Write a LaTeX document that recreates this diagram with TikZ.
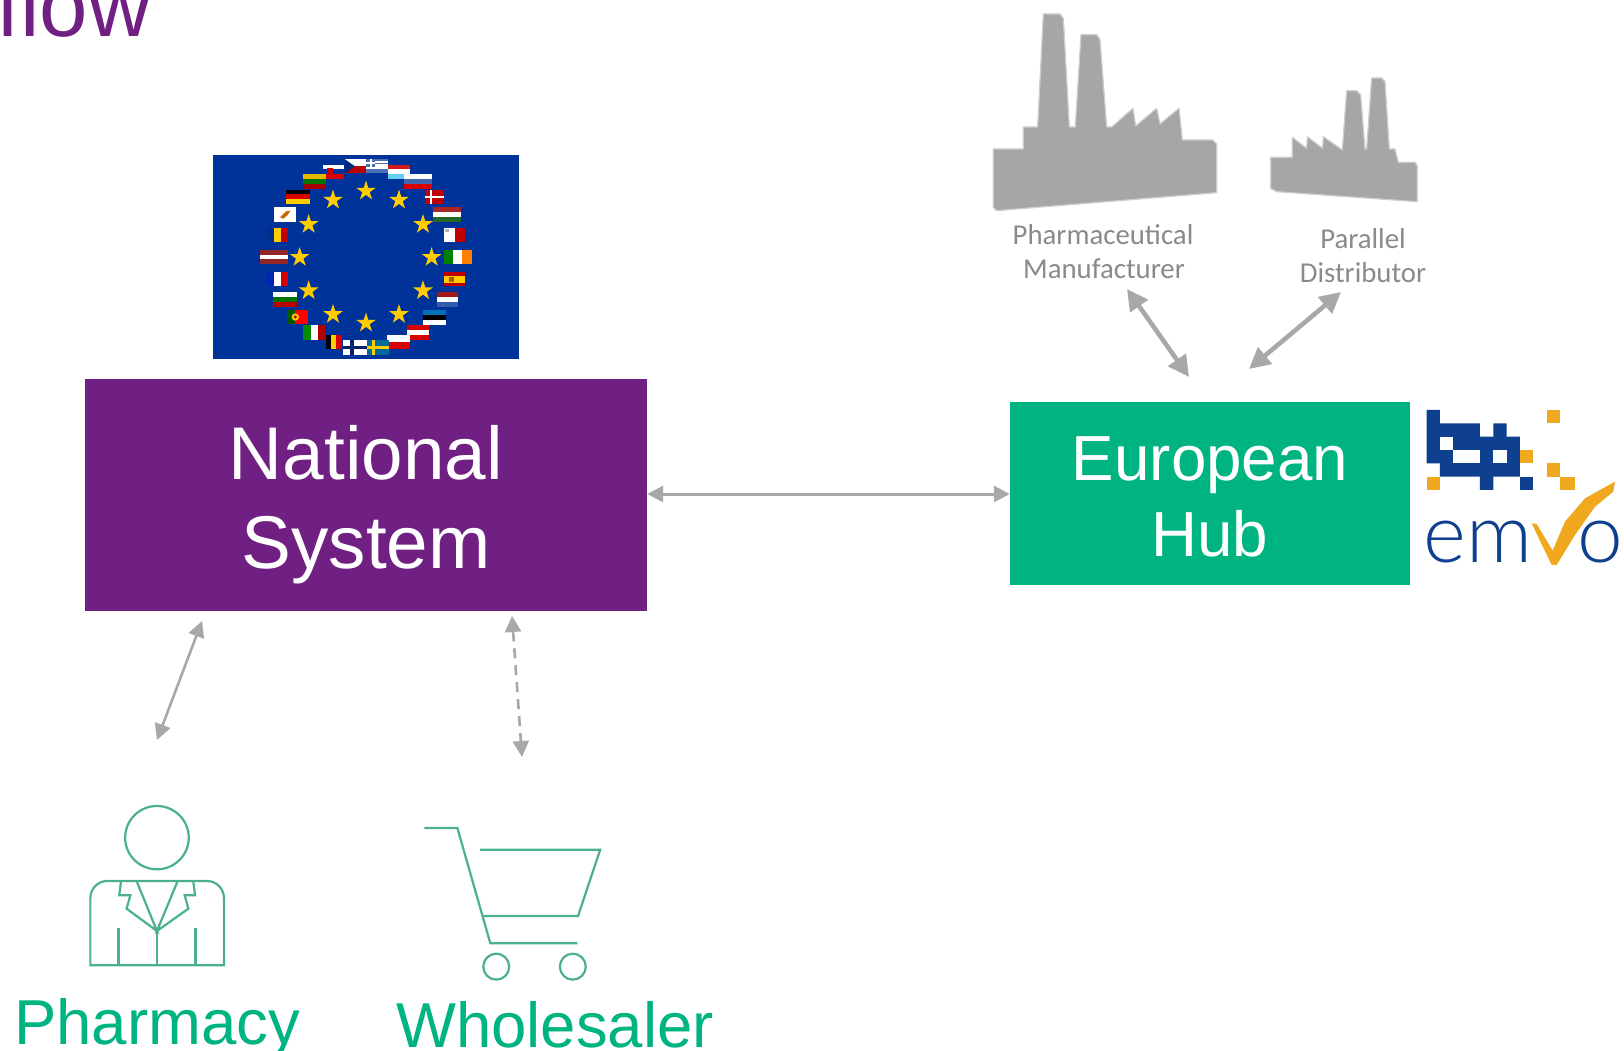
\documentclass[tikz,border=0pt]{standalone}
\usepackage{fontspec}
\usetikzlibrary{arrows.meta}
\setmainfont{Liberation Sans}
\newfontfamily\calfont{Carlito}
\newfontfamily\emvofont{Lato Light}
\definecolor{purp}{HTML}{702082}
\definecolor{grn}{HTML}{00B482}
\definecolor{icon}{HTML}{4BB08F}
\definecolor{arrowgray}{HTML}{A8A8A8}
\definecolor{factgray}{HTML}{A6A6A6}
\definecolor{labgray}{HTML}{8A8A8A}
\definecolor{eublue}{HTML}{003399}
\definecolor{eustar}{HTML}{FFCC00}
\definecolor{logoblue}{HTML}{0F3F8F}
\definecolor{logoor}{HTML}{F0A81E}
\tikzset{
  bigbox/.style={inner sep=0pt,align=center,text=white},
  biglabel/.style={text=grn,font=\fontsize{63.5}{70}\selectfont,inner sep=0pt,anchor=base},
  factlabel/.style={text=labgray,font=\calfont\fontsize{28.8}{28.8}\selectfont,inner sep=0pt,anchor=base},
  link/.style={draw=arrowgray,line width=3pt,{Triangle[length=16pt,width=16pt]}-{Triangle[length=16pt,width=16pt]}},
  linkthick/.style={draw=arrowgray,line width=4.6pt,{Triangle[length=21pt,width=21pt]}-{Triangle[length=21pt,width=21pt]}},
  iconline/.style={draw=icon,line width=2.2pt},
  zoomA/.style={x=0.33333pt,y=-0.33333pt},
  zoomB/.style={x=0.37pt,y=-0.33333pt},
  factshape/.style={fill=factgray,draw=factgray!55,line width=1.2pt,line join=round},
}
\newcommand{\hfl}[7]{%
  \pgfmathsetmacro{\ya}{#2+(#4-#2)/3}\pgfmathsetmacro{\yb}{#2+2*(#4-#2)/3}%
  \fill[#5] (#1,#2) rectangle (#3,\ya);
  \fill[#6] (#1,\ya) rectangle (#3,\yb);
  \fill[#7] (#1,\yb) rectangle (#3,#4);}
\newcommand{\vfl}[7]{%
  \pgfmathsetmacro{\xa}{#1+(#3-#1)/3}\pgfmathsetmacro{\xb}{#1+2*(#3-#1)/3}%
  \fill[#5] (#1,#2) rectangle (\xa,#4);
  \fill[#6] (\xa,#2) rectangle (\xb,#4);
  \fill[#7] (\xb,#2) rectangle (#3,#4);}
\newcommand{\eustarat}[2]{%
  \fill[eustar] (#1,#2) +(-90:31) -- +(-54:11.8) -- +(-18:31) -- +(18:11.8) -- +(54:31) -- +(90:11.8) -- +(126:31) -- +(162:11.8) -- +(198:31) -- +(234:11.8) -- cycle;}
\begin{document}
\begin{tikzpicture}[x=1pt,y=-1pt]
\useasboundingbox (0,0) rectangle (1624,1051);
\fill[white] (0,0) rectangle (1624,1051);

% title fragment
\node[text=purp,font=\fontsize{87}{87}\selectfont,inner sep=0pt,anchor=base west] (title) at (-4,37) {flow};

% EU flag
\fill[eublue] (213,155) rectangle (519,359);
\begin{scope}[zoomA,shift={(600,420)}]
\foreach \a/\b in {498/153,399/180,597/180,326/253,669/253,299/352,695/352,326/452,669/452,399/523,597/523,498/549}{\eustarat{\a}{\b}}
% Czech
\fill[white] (435,58) rectangle (497,79);
\fill[red!75!black] (435,79) rectangle (497,100);
\fill[eublue!80!black] (435,58) -- (465,79) -- (435,100) -- cycle;
% Greece
\hfl{499}{58}{563}{100}{eublue!70!white}{white}{eublue!70!white}
\fill[white] (525,64) rectangle (563,70);
\fill[white] (525,76) rectangle (563,82);
\fill[eublue!70!white] (499,58) rectangle (525,82);
\fill[white] (499,67) rectangle (525,73);
\fill[white] (509,58) rectangle (515,82);
% Luxembourg
\hfl{563}{74}{630}{117}{red!80!black!90!white}{white}{cyan!60!white}
% Slovakia
\hfl{369}{74}{432}{117}{white}{eublue}{red!85!black}
\fill[red!80!black] (382,84) rectangle (400,104);
% Slovenia
\hfl{612}{103}{696}{146}{white}{eublue!75!white}{red!85!black}
% Lithuania
\hfl{308}{103}{377}{146}{eustar!90!black}{green!45!black}{red!65!black}
% Germany
\hfl{257}{149}{329}{191}{black}{red!85!black}{eustar}
% Denmark
\fill[red!75!black] (675,149) rectangle (731,191);
\fill[white] (691,149) rectangle (697,191);
\fill[white] (675,167) rectangle (731,173);
% Cyprus
\fill[white] (222,202) rectangle (287,245);
\fill[orange!80!black] (240,232) -- (258,214) -- (272,212) -- (262,226) -- (250,236) -- cycle;
% Hungary
\hfl{699}{202}{784}{245}{red!60!black!85!white}{white}{green!30!black!85!white}
% Romania
\vfl{200}{263}{263}{306}{eublue!90!black}{eustar}{red!75!black}
% Malta
\fill[white] (733,263) rectangle (764,306);
\fill[red!75!black] (764,263) rectangle (796,306);
\fill[gray!60] (736,267) rectangle (746,277);
% Latvia
\fill[red!50!black!85!white] (181,330) rectangle (265,372);
\fill[white] (181,346) rectangle (265,356);
% Ireland
\vfl{731}{330}{815}{372}{green!50!black}{white}{orange}
% France
\vfl{200}{396}{263}{439}{eublue!70!blue}{white}{red!85!black}
% Spain
\fill[red!75!black] (733,396) rectangle (796,439);
\fill[eustar] (733,407) rectangle (796,428);
\fill[orange!70!black] (747,410) rectangle (761,425);
% Bulgaria
\hfl{220}{457}{291}{500}{white}{green!45!black}{red!75!black}
% Netherlands
\hfl{710}{457}{774}{500}{red!60!black!90!white}{white}{eublue!80!white}
% Portugal
\fill[green!35!black] (261,510) rectangle (285,552);
\fill[red] (285,510) rectangle (324,552);
\fill[eustar] (286,531) circle[radius=11];
\fill[red!70!black] (286,531) circle[radius=5];
% Estonia
\hfl{669}{510}{737}{554}{eublue!70!cyan}{black}{white}
% Italy
\vfl{310}{556}{375}{599}{green!55!black}{white}{red!70!black}
% Austria
\hfl{622}{556}{686}{599}{red!85!black}{white}{red!85!black}
% Belgium
\vfl{377}{585}{425}{628}{black}{eustar}{red!85!black}
% Poland
\fill[white] (561,585) rectangle (630,606);
\fill[red!85!black] (561,606) rectangle (630,628);
% Finland
\fill[white] (430,601) rectangle (500,644);
\fill[eublue!70!black] (450,601) rectangle (462,644);
\fill[eublue!70!black] (430,617) rectangle (500,628);
% Sweden
\fill[eublue!60!cyan!80!black] (500,601) rectangle (566,644);
\fill[eustar] (516,601) rectangle (526,644);
\fill[eustar] (500,618) rectangle (566,627);
\end{scope}

% main boxes
\node[bigbox,fill=purp,minimum width=562pt,minimum height=232pt,font=\fontsize{74.7}{89}\selectfont] (national) at (366,495) {\rule{0pt}{73pt}National\\System};
\node[bigbox,fill=grn,minimum width=400pt,minimum height=183pt,font=\fontsize{63.7}{76}\selectfont] (hub) at (1210,493.5) {\rule{0pt}{51pt}European\\Hub};

% factories
\begin{scope}[zoomA,shift={(2910,0)}]
\path[factshape] (70,447) -- (160,447) -- (160,381) -- (203,381) -- (220,42) -- (270,42) -- (280,55) -- (298,381) -- (316,381) -- (333,104) -- (380,104) -- (390,118) -- (410,381) -- (425,381) -- (489,325) -- (497,378) -- (560,325) -- (570,372) -- (627,325) -- (637,420) -- (728,420) -- (740,432) -- (740,578) -- (80,632) -- (70,622) -- cycle;
\path[factshape] (902,472) -- (967,472) -- (967,412) -- (1010,445) -- (1012,410) -- (1058,445) -- (1060,410) -- (1117,450) -- (1130,272) -- (1160,272) -- (1172,285) -- (1185,447) -- (1190,447) -- (1205,234) -- (1235,234) -- (1245,245) -- (1258,447) -- (1275,447) -- (1285,487) -- (1335,487) -- (1342,498) -- (1342,605) -- (920,575) -- (902,565) -- cycle;
\end{scope}
\node[factlabel] (pharma1) at (1103,244) {Pharmaceutical};
\node[factlabel] (pharma2) at (1104,278) {Manufacturer};
\node[factlabel] (par1) at (1363,248) {Parallel};
\node[factlabel] (par2) at (1363,282) {Distributor};

% connectors
\coordinate (mA) at (1127,289);
\coordinate (mB) at (1189,377);
\coordinate (pA) at (1341,292);
\coordinate (pB) at (1249,369);
\coordinate (rA) at (202,621);
\coordinate (rB) at (157,740);
\coordinate (wA) at (512,616);
\coordinate (wB) at (522,757);
\draw[linkthick] (mA) -- (mB);
\draw[linkthick] (pA) -- (pB);
\draw[link] (national.east |- 0,494) -- (hub.west |- 0,494);
\draw[link,line width=2.6pt] (rA) -- (rB);
\draw[link,line width=2.6pt,dash pattern=on 10pt off 7pt] (wA) -- (wB);

% pharmacy and wholesaler icons
\begin{scope}[zoomB,shift={(162.2,2343)},iconline]
\draw (262,170) ellipse[x radius=86,y radius=95];
\draw[line join=miter] (82,553) [rounded corners=17pt] -- (82,300) -- (443,300) [sharp corners] -- (443,553) -- cycle;
\draw (165,300) -- (160,343) -- (190,343) -- (180,383) -- (262,450) -- (207,300);
\draw (360,300) -- (365,343) -- (337,343) -- (347,383) -- (262,450) -- (318,300);
\draw (262,450) -- (262,553);
\draw (158,440) -- (158,553);
\draw (366,440) -- (366,553);
% cart
\draw (985,141) -- (1074,141) -- (1163,487) -- (1398,487);
\draw (1135,206) -- (1460,206) -- (1400,405) -- (1143,405);
\draw (1179,557) ellipse[x radius=35,y radius=39];
\draw (1386,557) ellipse[x radius=35,y radius=39];
\end{scope}
\node[biglabel] (pharmacy) at (157,1044) {Pharmacy};
\node[biglabel] (wholesaler) at (555,1047) {Wholesaler};

% emvo logo
\begin{scope}[zoomA,shift={(4200,1170)}]
\fill[logoblue] (80,60) -- (120,60) -- (120,100) -- (240,100) -- (240,140) -- (280,140) -- (280,100) -- (320,100) -- (320,140) -- (360,140) -- (360,260) -- (280,260) -- (280,300) -- (240,300) -- (240,260) -- (120,260) -- (120,220) -- (80,220) -- cycle;
\fill[white] (120,140) rectangle (160,180);
\fill[white] (160,180) rectangle (240,220);
\fill[white] (280,180) rectangle (320,220);
\fill[logoblue] (360,260) rectangle (400,300);
\fill[logoor] (440,60) rectangle (480,100);
\fill[logoor] (360,180) rectangle (400,220);
\fill[logoor] (440,220) rectangle (480,260);
\fill[logoor] (480,260) rectangle (525,300);
\fill[logoor] (80,260) rectangle (120,300);
\node[text=logoblue,font=\emvofont\fontsize{82}{82}\selectfont,inner sep=0pt,anchor=base west] (emvoA) at (70,518) {em};
\node[text=logoblue,font=\emvofont\fontsize{82}{82}\selectfont,inner sep=0pt,anchor=base] (emvoB) at (600,518) {o};
\fill[logoor] (395,400) -- (410,402) -- (458,482) -- (495,395) -- (555,325) -- (645,275) -- (640,305) -- (585,350) -- (525,435) -- (470,525) -- (455,525) -- cycle;
\end{scope}
\end{tikzpicture}
\end{document}
